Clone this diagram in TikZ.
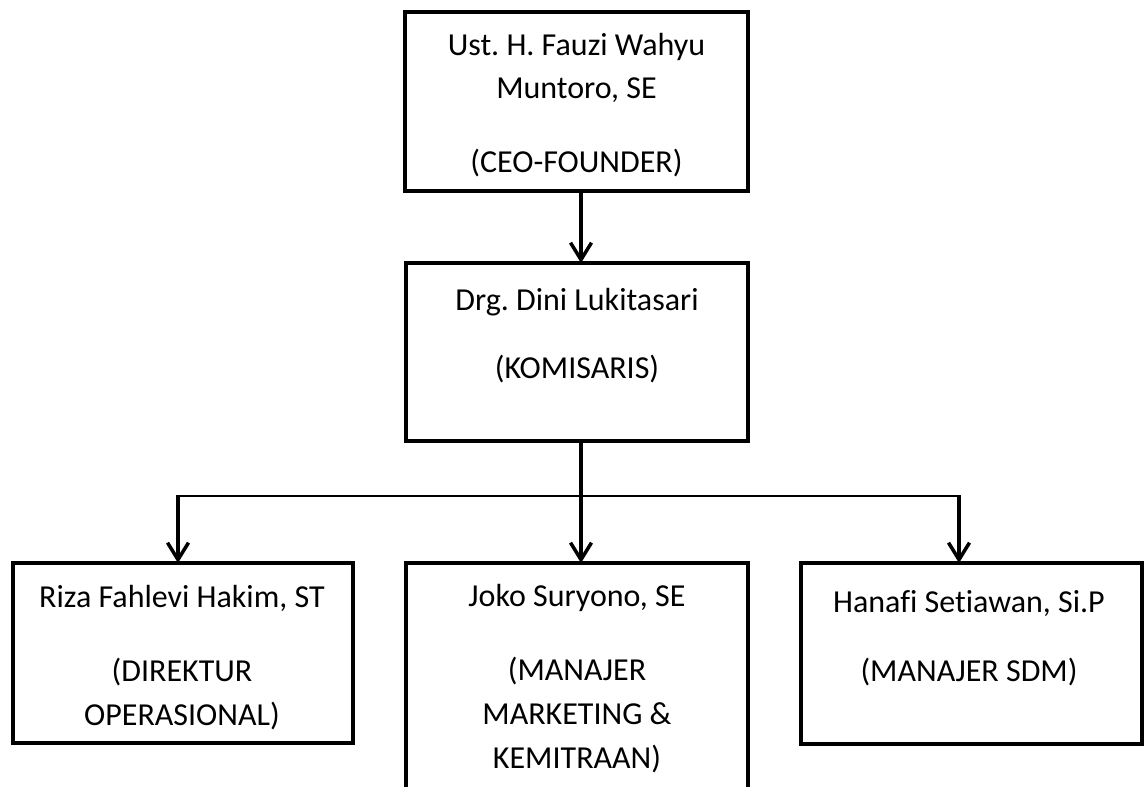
\documentclass[tikz,border=0pt]{standalone}
\usepackage{fontspec}
\setmainfont[Ligatures=NoCommon]{Carlito}
\usetikzlibrary{arrows.meta}
\frenchspacing
\begin{document}
\begin{tikzpicture}[x=1pt,y=-1pt,
  box/.style={draw=black, line width=4pt, rectangle, inner sep=0pt, outer sep=0pt, anchor=north west},
  txt/.style={anchor=base, inner sep=0pt, font=\fontsize{32}{38}\selectfont},
  conn/.style={line width=3.5pt, -{Straight Barb[length=17pt,width=21pt,line width=3.5pt]}},
  hline/.style={line width=2.5pt}]
\useasboundingbox (0,0) rectangle (1144,787);
\clip (0,0) rectangle (1144,787);
% boxes
\node[box, minimum width=343pt, minimum height=179pt] (ceo) at (405,12) {};
\node[box, minimum width=342pt, minimum height=178pt] (kom) at (406,263) {};
\node[box, minimum width=340pt, minimum height=180pt] (dir) at (13,563) {};
\node[box, minimum width=342pt, minimum height=260pt] (mkt) at (406,563) {};
\node[box, minimum width=341pt, minimum height=181pt] (sdm) at (801,563) {};
% texts
\node[txt] (ceo1) at (576.5,55) {Ust. H. Fauzi Wahyu};
\node[txt] (ceo2) at (576.5,98) {Muntoro, SE};
\node[txt] (ceo3) at (576.5,172) {(CEO-FOUNDER)};
\node[txt] (kom1) at (577,310) {Drg. Dini Lukitasari};
\node[txt] (kom2) at (577,378) {(KOMISARIS)};
\node[txt] (dir1) at (182,607) {Riza Fahlevi Hakim, ST};
\node[txt] (dir2) at (182,681) {(DIREKTUR};
\node[txt] (dir3) at (182,725) {OPERASIONAL)};
\node[txt] (mkt1) at (577,606) {Joko Suryono, SE};
\node[txt] (mkt2) at (577,680) {(MANAJER};
\node[txt] (mkt3) at (577,724) {MARKETING \&};
\node[txt] (mkt4) at (577,768) {KEMITRAAN)};
\node[txt] (sdm1) at (969,612) {Hanafi Setiawan, Si.P};
\node[txt] (sdm2) at (969,681) {(MANAJER SDM)};
% connectors
\coordinate (j) at (581,496);
\coordinate (jl) at (178,496);
\coordinate (jr) at (959,496);
\draw[conn] (ceo.south -| j) -- (kom.north -| j);
\draw[line width=3.5pt] (kom.south -| j) -- (j);
\draw[hline] (jl) -- (jr);
\draw[conn] (j) -- (mkt.north -| j);
\draw[conn] ([yshift=1.25pt]jl) -- (dir.north -| jl);
\draw[conn] ([yshift=1.25pt]jr) -- (sdm.north -| jr);
\end{tikzpicture}
\end{document}
